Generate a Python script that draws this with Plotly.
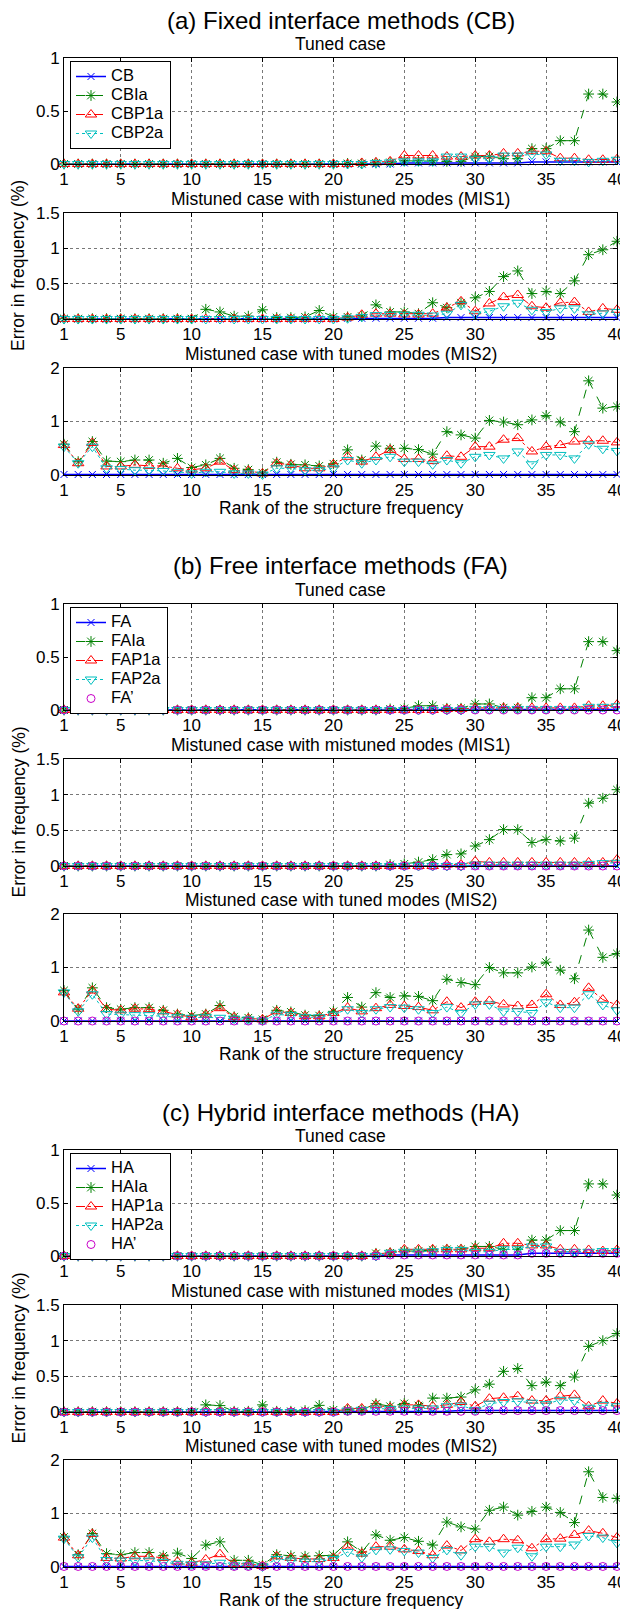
import plotly.graph_objects as go

rank = list(range(1, 41))

# ---------------- (a) Fixed interface methods (CB) ----------------
CB_tuned = [0,0,0,0,0,0,0,0,0,0, 0,0,0,0,0,0,0,0,0,0, 0,0,0,0,0.01,0.01,0.01,0.01,0.01,0.01, 0.01,0.01,0.01,0.02,0.02,0.02,0.02,0.02,0.02,0.02]
CBIa_tuned = [0,0,0,0,0,0,0,0,0,0, 0,0,0,0,0,0,0,0,0,0, 0.005,0.005,0.01,0.015,0.03,0.03,0.03,0.025,0.025,0.07, 0.07,0.05,0.05,0.145,0.145,0.22,0.22,0.66,0.66,0.585]
CBP1a_tuned = [0,0,0,0,0,0,0,0,0,0, 0,0,0,0,0,0,0,0,0,0, 0,0.01,0.015,0.025,0.08,0.08,0.08,0.07,0.07,0.08, 0.08,0.1,0.1,0.12,0.12,0.055,0.055,0.04,0.04,0.045]
CBP2a_tuned = [0,0,0,0,0,0,0,0,0,0, 0,0,0,0,0,0,0,0,0,0, 0,0,0.01,0.015,0.025,0.025,0.025,0.07,0.07,0.05, 0.05,0.08,0.08,0.09,0.09,0.03,0.03,0.02,0.03,0.04]

CB_mis1 = [0,0,0,0,0,0,0,0,0,0, 0,0,0,0,0,0,0,0,0,0, 0.01,0.01,0.01,0.01,0.01,0.01,0.01,0.02,0.02,0.02, 0.02,0.02,0.02,0.02,0.02,0.02,0.02,0.02,0.02,0.02]
CBIa_mis1 = [0.005,0.005,0.005,0.005,0.005,0.005,0.005,0.005,0.005,0.005, 0.137,0.1,0.04,0.04,0.13,0.02,0.02,0.03,0.12,0.03, 0.03,0.04,0.2,0.1,0.1,0.075,0.23,0.16,0.23,0.3, 0.39,0.6,0.68,0.36,0.39,0.36,0.54,0.91,0.98,1.1]
CBP1a_mis1 = [0,0,0,0,0,0,0,0,0,0, 0,0,0,0,0,0,0,0,0,0, 0.02,0.06,0.075,0.075,0.065,0.065,0.075,0.16,0.25,0.11, 0.22,0.31,0.34,0.18,0.16,0.23,0.24,0.1,0.15,0.13]
CBP2a_mis1 = [0,0,0,0,0,0,0,0,0,0, 0,0,0,0,0,0,0,0,0,0, 0.01,0.03,0.055,0.06,0.06,0.06,0.05,0.075,0.2,0.065, 0.11,0.18,0.23,0.13,0.1,0.15,0.15,0.065,0.08,0.1]

CB_mis2 = [0.01,0.01,0.01,0.01,0.01,0.01,0.01,0.01,0.01,0.01, 0.01,0.01,0.01,0.01,0.01,0.01,0.01,0.01,0.01,0.01, 0.01,0.01,0.01,0.01,0.01,0.01,0.01,0.01,0.01,0.01, 0.01,0.01,0.01,0.01,0.01,0.01,0.01,0.01,0.01,0.01]
CBIa_mis2 = [0.575,0.25,0.625,0.26,0.25,0.28,0.28,0.22,0.31,0.14, 0.19,0.31,0.125,0.1,0.04,0.24,0.2,0.19,0.17,0.21, 0.47,0.28,0.54,0.49,0.5,0.475,0.39,0.81,0.75,0.69, 1.02,0.99,0.94,1.03,1.11,0.99,0.81,1.76,1.25,1.28]
CBP1a_mis2 = [0.56,0.22,0.6,0.16,0.16,0.19,0.17,0.17,0.125,0.1, 0.125,0.25,0.09,0.08,0.03,0.22,0.19,0.125,0.125,0.2, 0.34,0.25,0.34,0.47,0.3,0.3,0.26,0.36,0.34,0.53, 0.53,0.66,0.69,0.44,0.53,0.56,0.625,0.64,0.64,0.61]
CBP2a_mis2 = [0.53,0.22,0.53,0.125,0.11,0.09,0.09,0.075,0.06,0.03, 0.06,0.06,0.03,0.03,0.01,0.125,0.125,0.09,0.09,0.125, 0.28,0.22,0.28,0.34,0.25,0.25,0.2,0.28,0.22,0.34, 0.375,0.31,0.44,0.2,0.375,0.375,0.31,0.575,0.49,0.45]

# ---------------- (b) Free interface methods (FA) ----------------
FA_tuned = [0,0,0,0,0,0,0,0,0,0, 0,0,0,0,0,0,0,0,0,0, 0,0,0,0,0,0.005,0.005,0.005,0.005,0.005, 0.005,0.005,0.005,0.005,0.005,0.005,0.005,0.005,0.005,0.005]
FAIa_tuned = [0,0,0,0,0,0,0,0,0,0, 0,0,0,0,0,0,0,0,0,0, 0,0,0,0.01,0.015,0.04,0.04,0.016,0.016,0.057, 0.057,0.022,0.022,0.116,0.116,0.2,0.2,0.645,0.645,0.56]
FAP1a_tuned = [0,0,0,0,0,0,0,0,0,0, 0,0,0,0,0,0,0,0,0,0, 0,0,0,0,0,0,0,0.01,0.01,0.02, 0.02,0.02,0.02,0.02,0.02,0.02,0.02,0.04,0.04,0.05]
FAP2a_tuned = [0,0,0,0,0,0,0,0,0,0, 0,0,0,0,0,0,0,0,0,0, 0,0,0,0,0,0,0,0,0,0.01, 0.01,0.01,0.01,0.01,0.01,0.01,0.01,0.03,0.03,0.035]
FAp_tuned = [0,0,0,0,0,0,0,0,0,0, 0,0,0,0,0,0,0,0,0,0, 0,0,0,0,0,0,0,0,0,0, 0,0,0,0,0,0,0,0,0,0]

FA_mis1 = [0,0,0,0,0,0,0,0,0,0, 0,0,0,0,0,0,0,0,0,0, 0,0,0,0,0,0,0,0,0,0, 0,0,0,0,0,0,0,0,0,0]
FAIa_mis1 = [0,0,0,0,0,0,0,0,0,0, 0,0,0,0,0,0,0,0,0,0, 0,0,0,0.02,0.03,0.055,0.09,0.16,0.17,0.28, 0.37,0.51,0.51,0.33,0.37,0.35,0.39,0.88,0.95,1.07]
FAP1a_mis1 = [0,0,0,0,0,0,0,0,0,0, 0,0,0,0,0,0,0,0,0,0, 0,0,0,0,0,0,0,0.02,0.02,0.065, 0.05,0.05,0.05,0.05,0.05,0.05,0.05,0.05,0.05,0.09]
FAP2a_mis1 = [0,0,0,0,0,0,0,0,0,0, 0,0,0,0,0,0,0,0,0,0, 0,0,0,0,0,0,0,0,0,0.02, 0.02,0.02,0.02,0.02,0.02,0.02,0.02,0.03,0.04,0.045]
FAp_mis1 = [0,0,0,0,0,0,0,0,0,0, 0,0,0,0,0,0,0,0,0,0, 0,0,0,0,0,0,0,0,0,0, 0,0,0,0,0,0,0,0,0,0]

FA_mis2 = [0,0,0,0,0,0,0,0,0,0, 0,0,0,0,0,0,0,0,0,0, 0,0,0,0,0,0,0,0,0,0, 0,0,0,0,0,0,0,0,0,0]
FAIa_mis2 = [0.57,0.22,0.62,0.25,0.22,0.25,0.25,0.2,0.13,0.1, 0.13,0.29,0.08,0.06,0.03,0.2,0.17,0.11,0.1,0.18, 0.44,0.26,0.53,0.44,0.47,0.46,0.38,0.78,0.72,0.68, 1.0,0.9,0.9,1.01,1.1,0.95,0.79,1.7,1.19,1.26]
FAP1a_mis2 = [0.535,0.23,0.57,0.22,0.2,0.23,0.22,0.18,0.12,0.07, 0.12,0.24,0.07,0.045,0.03,0.18,0.15,0.09,0.09,0.15, 0.25,0.18,0.24,0.3,0.28,0.26,0.2,0.36,0.25,0.36, 0.375,0.31,0.28,0.3,0.5,0.3,0.35,0.62,0.4,0.3]
FAP2a_mis2 = [0.535,0.18,0.5,0.13,0.12,0.11,0.11,0.09,0.07,0.06, 0.07,0.06,0.045,0.03,0.01,0.12,0.11,0.07,0.07,0.12, 0.22,0.15,0.22,0.26,0.25,0.22,0.15,0.26,0.15,0.31, 0.31,0.18,0.18,0.15,0.35,0.25,0.25,0.5,0.3,0.2]
FAp_mis2 = [0,0,0,0,0,0,0,0,0,0, 0,0,0,0,0,0,0,0,0,0, 0,0,0,0,0,0,0,0,0,0, 0,0,0,0,0,0,0,0,0,0]

# ---------------- (c) Hybrid interface methods (HA) ----------------
HA_tuned = [0,0,0,0,0,0,0,0,0,0, 0,0,0,0,0,0,0,0,0,0, 0,0,0,0.01,0.01,0.01,0.01,0.01,0.01,0.01, 0.01,0.01,0.01,0.025,0.025,0.025,0.025,0.025,0.025,0.025]
HAIa_tuned = [0,0,0,0,0,0,0,0,0,0, 0,0,0,0,0,0,0,0,0,0, 0,0,0.025,0.03,0.047,0.047,0.057,0.063,0.063,0.09, 0.09,0.063,0.063,0.15,0.15,0.24,0.24,0.68,0.68,0.575]
HAP1a_tuned = [0,0,0,0,0,0,0,0,0,0, 0,0,0,0,0,0,0,0,0,0, 0,0,0.02,0.03,0.063,0.063,0.063,0.063,0.063,0.073, 0.073,0.12,0.12,0.1,0.1,0.063,0.063,0.057,0.047,0.057]
HAP2a_tuned = [0,0,0,0,0,0,0,0,0,0, 0,0,0,0,0,0,0,0,0,0, 0,0,0,0.03,0.04,0.04,0.045,0.057,0.057,0.04, 0.04,0.063,0.063,0.09,0.09,0.04,0.04,0.04,0.047,0.047]
HAp_tuned = [0,0,0,0,0,0,0,0,0,0, 0,0,0,0,0,0,0,0,0,0, 0,0,0,0.01,0.01,0.01,0.01,0.01,0.01,0.01, 0.01,0.01,0.01,0.025,0.025,0.025,0.025,0.025,0.025,0.025]

HA_mis1 = [0,0,0,0,0,0,0,0,0,0, 0,0,0,0,0,0,0,0,0,0, 0.01,0.01,0.01,0.01,0.01,0.01,0.01,0.01,0.02,0.02, 0.02,0.02,0.02,0.02,0.02,0.02,0.02,0.02,0.02,0.02]
HAIa_mis1 = [0.005,0.005,0.005,0.005,0.005,0.005,0.005,0.005,0.005,0.005, 0.1,0.09,0.01,0.01,0.1,0.01,0.01,0.02,0.093,0.03, 0.03,0.03,0.116,0.08,0.12,0.09,0.195,0.195,0.21,0.31, 0.39,0.57,0.61,0.37,0.42,0.37,0.49,0.92,1.0,1.1]
HAP1a_mis1 = [0,0,0,0,0,0,0,0,0,0, 0,0,0,0,0,0,0,0,0,0, 0.05,0.05,0.1,0.06,0.1,0.1,0.08,0.1,0.14,0.08, 0.186,0.2,0.22,0.16,0.16,0.22,0.24,0.08,0.16,0.12]
HAP2a_mis1 = [0,0,0,0,0,0,0,0,0,0, 0,0,0,0,0,0,0,0,0,0, 0.02,0.03,0.05,0.04,0.05,0.05,0.05,0.08,0.09,0.03, 0.116,0.14,0.15,0.13,0.11,0.17,0.16,0.06,0.1,0.08]
HAp_mis1 = [0,0,0,0,0,0,0,0,0,0, 0,0,0,0,0,0,0,0,0,0, 0.01,0.01,0.01,0.01,0.01,0.01,0.01,0.01,0.01,0.01, 0.02,0.02,0.02,0.02,0.02,0.02,0.02,0.02,0.02,0.02]

HA_mis2 = [0.01,0.01,0.01,0.01,0.01,0.01,0.01,0.01,0.01,0.01, 0.01,0.01,0.01,0.01,0.01,0.01,0.01,0.01,0.01,0.01, 0.01,0.01,0.01,0.01,0.01,0.01,0.01,0.01,0.01,0.01, 0.01,0.01,0.01,0.01,0.01,0.01,0.01,0.01,0.01,0.01]
HAIa_mis2 = [0.56,0.23,0.625,0.25,0.23,0.27,0.27,0.21,0.26,0.16, 0.41,0.47,0.125,0.125,0.04,0.23,0.21,0.2,0.21,0.22, 0.47,0.28,0.6,0.5,0.55,0.48,0.41,0.84,0.75,0.71, 1.06,1.12,0.97,1.04,1.12,1.02,0.83,1.78,1.3,1.28]
HAP1a_mis2 = [0.55,0.22,0.62,0.17,0.16,0.2,0.2,0.17,0.1,0.08, 0.14,0.24,0.06,0.06,0.02,0.2,0.17,0.15,0.15,0.17, 0.38,0.25,0.38,0.38,0.33,0.3,0.22,0.4,0.31,0.52, 0.47,0.52,0.5,0.35,0.52,0.53,0.6,0.68,0.63,0.55]
HAP2a_mis2 = [0.53,0.18,0.55,0.13,0.12,0.12,0.12,0.09,0.06,0.05, 0.05,0.08,0.03,0.03,0.01,0.15,0.12,0.1,0.1,0.15, 0.28,0.18,0.32,0.33,0.3,0.27,0.17,0.32,0.22,0.38, 0.38,0.27,0.36,0.2,0.38,0.38,0.42,0.58,0.55,0.45]
HAp_mis2 = [0.01,0.01,0.01,0.01,0.01,0.01,0.01,0.01,0.01,0.01, 0.01,0.01,0.01,0.01,0.01,0.01,0.01,0.01,0.01,0.01, 0.01,0.01,0.01,0.01,0.01,0.01,0.01,0.01,0.01,0.01, 0.01,0.01,0.01,0.01,0.01,0.01,0.01,0.01,0.01,0.01]

group_titles = ["(a) Fixed interface methods (CB)", "(b) Free interface methods (FA)", "(c) Hybrid interface methods (HA)"]
case_titles = ["Tuned case", "Mistuned case with mistuned modes (MIS1)", "Mistuned case with tuned modes (MIS2)"]
x_ticks = [1, 5, 10, 15, 20, 25, 30, 35, 40]
y_ticks = [[0, 0.5, 1], [0, 0.5, 1, 1.5], [0, 1, 2]]
y_ranges = [[0, 1], [0, 1.5], [0, 2]]

groups = [
    [("CB", "base", [CB_tuned, CB_mis1, CB_mis2]),
     ("CBIa", "Ia", [CBIa_tuned, CBIa_mis1, CBIa_mis2]),
     ("CBP1a", "P1a", [CBP1a_tuned, CBP1a_mis1, CBP1a_mis2]),
     ("CBP2a", "P2a", [CBP2a_tuned, CBP2a_mis1, CBP2a_mis2])],
    [("FA", "base", [FA_tuned, FA_mis1, FA_mis2]),
     ("FAIa", "Ia", [FAIa_tuned, FAIa_mis1, FAIa_mis2]),
     ("FAP1a", "P1a", [FAP1a_tuned, FAP1a_mis1, FAP1a_mis2]),
     ("FAP2a", "P2a", [FAP2a_tuned, FAP2a_mis1, FAP2a_mis2]),
     ("FA\u2019", "prime", [FAp_tuned, FAp_mis1, FAp_mis2])],
    [("HA", "base", [HA_tuned, HA_mis1, HA_mis2]),
     ("HAIa", "Ia", [HAIa_tuned, HAIa_mis1, HAIa_mis2]),
     ("HAP1a", "P1a", [HAP1a_tuned, HAP1a_mis1, HAP1a_mis2]),
     ("HAP2a", "P2a", [HAP2a_tuned, HAP2a_mis1, HAP2a_mis2]),
     ("HA\u2019", "prime", [HAp_tuned, HAp_mis1, HAp_mis2])],
]

styles = {
    "base": dict(color="rgb(0,0,255)", dash="solid", symbol="x-thin-open", mode="lines+markers", width=1.5, size=7),
    "Ia": dict(color="rgb(0,128,0)", dash="dash", symbol="asterisk-open", mode="lines+markers", width=1, size=9),
    "P1a": dict(color="rgb(255,0,0)", dash="dashdot", symbol="triangle-up-open", mode="lines+markers", width=1, size=10),
    "P2a": dict(color="rgb(0,191,191)", dash="dot", symbol="triangle-down-open", mode="lines+markers", width=1, size=10),
    "prime": dict(color="rgb(200,0,200)", dash="solid", symbol="circle-open", mode="markers", width=1, size=8),
}

# the page body adds an 8 px offset; positions below are page pixels
OFF = 8
W, H = 620, 1601
FONT = "Liberation Sans, Arial, Helvetica, sans-serif"
boxes = [(58, 164), (213, 319), (368, 475),
         (604, 710), (759, 866), (914, 1021),
         (1150, 1256), (1305, 1412), (1460, 1567)]
xl, xr = 64, 617
TICK = 17
LAB = 17.5

def px(p):
    return (p - OFF) / W

def py(p):
    return 1 - (p - OFF) / H

fig = go.Figure()
layout = dict(width=W, height=H,
              margin=dict(l=0, r=0, t=0, b=0, pad=0, autoexpand=False),
              paper_bgcolor="white", plot_bgcolor="white",
              font=dict(family=FONT, size=16, color="black"),
              showlegend=True)
annotations = []

for g in range(3):
    legname = "legend" if g == 0 else "legend%d" % (g + 1)
    for c in range(3):
        k = g * 3 + c
        idx = "" if k == 0 else str(k + 1)
        top, bot = boxes[k]
        axis_common = dict(showline=True, linecolor="black", linewidth=1, mirror="ticks",
                           ticks="inside", ticklen=4, tickcolor="black", automargin=False,
                           showgrid=True, gridcolor="rgb(120,120,120)", griddash="dot", gridwidth=1,
                           zeroline=False, tickfont=dict(family=FONT, size=TICK, color="black"))
        layout["xaxis" + idx] = dict(axis_common, domain=[px(xl), px(xr)], range=[1, 40],
                                     tickvals=x_ticks, anchor="y" + idx)
        layout["yaxis" + idx] = dict(axis_common, domain=[py(bot), py(top)], range=y_ranges[c],
                                     tickvals=y_ticks[c], anchor="x" + idx)
        for name, sk, series in groups[g]:
            st = styles[sk]
            fig.add_trace(go.Scatter(
                x=rank, y=series[c],
                name='<span style="font-size:16.5px">%s</span>' % name,
                mode=st["mode"],
                xaxis="x" + idx, yaxis="y" + idx, cliponaxis=False,
                line=dict(color=st["color"], dash=st["dash"], width=st["width"]),
                marker=dict(symbol=st["symbol"], size=st["size"], color=st["color"],
                            line=dict(color=st["color"], width=1)),
                legend=legname, showlegend=(c == 0)))
        annotations.append(dict(text=case_titles[c], xref="paper", yref="paper",
                                x=px((xl + xr) / 2), y=py(top - 2), xanchor="center", yanchor="bottom",
                                showarrow=False, font=dict(family=FONT, size=LAB, color="black")))
    gtop = boxes[g * 3][0]
    annotations.append(dict(text=group_titles[g], xref="paper", yref="paper",
                            x=px((xl + xr) / 2), y=py(gtop - 38), xanchor="center", yanchor="middle",
                            showarrow=False, font=dict(family=FONT, size=24, color="black")))
    mt, mb = boxes[g * 3 + 1]
    annotations.append(dict(text="Error in frequency (%)", xref="paper", yref="paper",
                            x=px(18), y=py((mt + mb) / 2), xanchor="center", yanchor="middle",
                            textangle=-90, showarrow=False, font=dict(family=FONT, size=LAB, color="black")))
    bb = boxes[g * 3 + 2][1]
    annotations.append(dict(text="Rank of the structure frequency", xref="paper", yref="paper",
                            x=px((xl + xr) / 2), y=py(bb + 33), xanchor="center", yanchor="middle",
                            showarrow=False, font=dict(family=FONT, size=LAB, color="black")))
    layout[legname] = dict(x=px(70), y=py(gtop + 3), xanchor="left", yanchor="top",
                           bgcolor="white", bordercolor="black", borderwidth=1,
                           font=dict(family=FONT, size=12, color="black"),
                           itemwidth=30, tracegroupgap=0, traceorder="normal")

layout["annotations"] = annotations
fig.update_layout(**layout)
fig.write_html("out.html")
